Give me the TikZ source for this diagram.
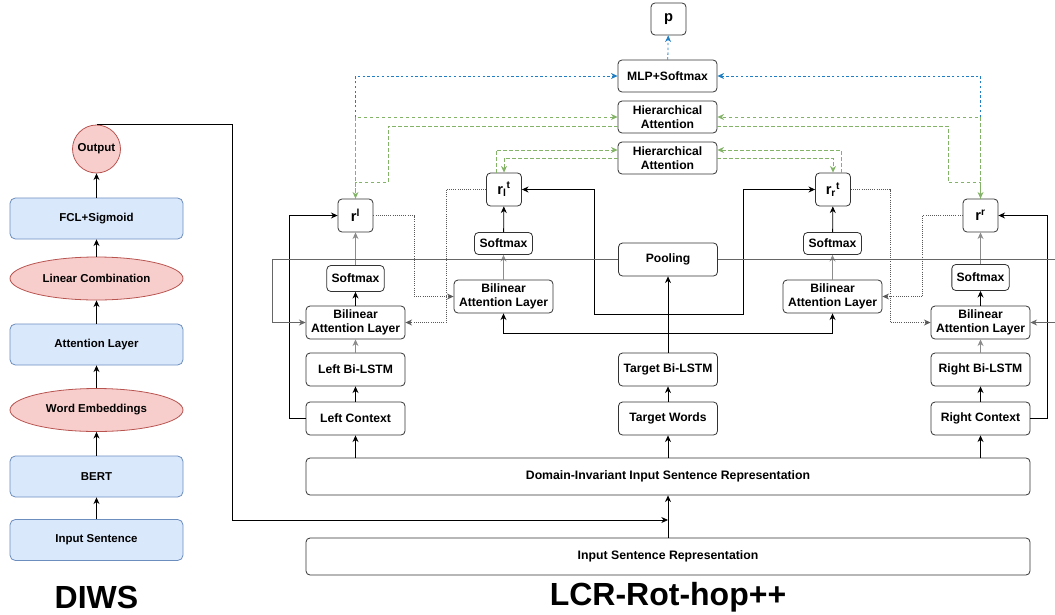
\documentclass[tikz,border=0pt]{standalone}
\usepackage{fontspec}
\setmainfont{Liberation Sans}
\usetikzlibrary{calc,arrows.meta,shapes.geometric}
\definecolor{diwsfill}{HTML}{DAE8FC}
\definecolor{diwsline}{HTML}{6C8EBF}
\definecolor{pinkfill}{HTML}{F8CECC}
\definecolor{pinkline}{HTML}{B85450}
\definecolor{hagreen}{HTML}{82B366}
\definecolor{mlpblue}{HTML}{1F7EC4}

\begin{document}
\begin{tikzpicture}[x=0.75pt, y=-0.75pt, >={Stealth[length=5pt,width=4.5pt]}, line width=0.6pt,
    txt/.style={font=\bfseries\fontsize{9.1}{10.5}\selectfont, align=center, inner sep=0pt},
    diwsbox/.style={txt, draw=diwsline, fill=diwsfill, rounded corners=4pt, minimum width=129.75pt, minimum height=30.75pt, font=\bfseries\fontsize{8.6}{10}\selectfont},
    diwsell/.style={txt, ellipse, draw=pinkline, fill=pinkfill, minimum width=129.75pt, minimum height=32.25pt, font=\bfseries\fontsize{8.6}{10}\selectfont},
    box/.style={txt, draw=black!80, fill=white, rounded corners=3pt, minimum width=74.25pt, minimum height=24.75pt},
    softbox/.style={box, minimum width=43pt, minimum height=19.5pt},
    midsoft/.style={box, minimum width=43.5pt, minimum height=16.5pt},
    rbox/.style={box, minimum width=26.25pt, minimum height=24.75pt, font=\bfseries\fontsize{11}{12}\selectfont},
    widebox/.style={box, minimum width=543pt, minimum height=27.75pt, font=\bfseries\fontsize{9.2}{10}\selectfont},
    title/.style={font=\bfseries\fontsize{24}{28}\selectfont, inner sep=0pt},
    grayarrow/.style={->, draw=black!45},
    poolline/.style={->, draw=black!60, line width=0.5pt},
    dotline/.style={->, draw=black!65, densely dotted, line width=0.6pt},
    greenline/.style={->, draw=hagreen, dash pattern=on 2.5pt off 2pt},
    blueline/.style={->, draw=mlpblue, dash pattern=on 1.8pt off 1.8pt}]

\useasboundingbox (0,0) rectangle (1055,614);

% DIWS
\node[diwsbox] (inp) at (96.5,540) {Input Sentence};
\node[diwsbox] (bert) at (96.5,476.5) {BERT};
\node[diwsell] (we) at (96.5,410) {Word Embeddings};
\node[diwsbox] (att) at (96.5,344.5) {Attention Layer};
\node[diwsell] (lc) at (96.5,278.5) {Linear Combination};
\node[diwsbox] (fcl) at (96.5,218.5) {FCL+Sigmoid};
\node[txt, circle, draw=pinkline, fill=pinkfill, minimum size=36pt, font=\bfseries\fontsize{8.6}{10}\selectfont] (out) at (96.5,149) {Output};
\node[title] (diwslbl) at (96.5,597) {DIWS};

\draw[->] (inp) -- (bert);
\draw[->] (bert) -- (we);
\draw[->] (we) -- (att);
\draw[->] (att) -- (lc);
\draw[->] (lc) -- (fcl);
\draw[->] (fcl) -- (out);

% LCR-Rot-hop++
\node[widebox] (isr) at (668,556.5) {Input Sentence Representation};
\node[widebox] (diis) at (668,476.5) {Domain-Invariant Input Sentence Representation};
\node[title] (lcrlbl) at (668,597) {LCR-Rot-hop++};
\coordinate (join) at (668,520);

\node[box] (lctx) at (355.5,418.5) {Left Context};
\node[box] (llstm) at (355.5,369.5) {Left Bi-LSTM};
\node[box] (lbal) at (355.5,322.5) {Bilinear\\Attention Layer};
\node[softbox] (lsoft) at (355.5,278.5) {Softmax};
\node[rbox] (rl) at (355.5,215.5) {r\textsuperscript{l}};

\node[box] (mlbal) at (503.5,296.5) {Bilinear\\Attention Layer};
\node[midsoft] (mlsoft) at (503.5,243.5) {Softmax};
\node[rbox] (rlt) at (504,189.5) {r\textsubscript{l}\textsuperscript{t}};

\node[box] (tw) at (668,418.5) {Target Words};
\node[box] (tlstm) at (668,369.5) {Target Bi-LSTM};
\node[box] (pool) at (668,259.5) {Pooling};
\coordinate (tsplitA) at (668,314);
\coordinate (tsplitB) at (668,333);

\node[box] (mrbal) at (832.5,296.5) {Bilinear\\Attention Layer};
\node[midsoft] (mrsoft) at (832.5,243.5) {Softmax};
\node[rbox] (rrt) at (833,189.5) {r\textsubscript{r}\textsuperscript{t}};

\node[box] (rctx) at (980.5,418.5) {Right Context};
\node[box] (rlstm) at (980.5,369.5) {Right Bi-LSTM};
\node[box] (rbal) at (980.5,322.5) {Bilinear\\Attention Layer};
\node[softbox] (rsoft) at (980.5,277.5) {Softmax};
\node[rbox] (rr) at (980.5,215.5) {r\textsuperscript{r}};

\node[box, minimum height=24pt] (ha2) at (667.5,158) {Hierarchical\\Attention};
\node[box, minimum height=24pt] (ha1) at (667.5,117) {Hierarchical\\Attention};
\node[box, minimum height=24pt] (mlp) at (667.5,76) {MLP+Softmax};
\node[rbox, minimum height=24pt] (p) at (668.5,19) {p};

% input to contexts
\draw[->] (isr) -- (diis);
\draw[->] (out.north) -- ++(135.5,0) |- (join);
\draw[->] (lctx |- diis.north) -- (lctx);
\draw[->] (tw |- diis.north) -- (tw);
\draw[->] (rctx |- diis.north) -- (rctx);

% columns
\draw[->] (lctx) -- (llstm);
\draw[grayarrow] (llstm) -- (lbal);
\draw[->] (lbal) -- (lsoft);
\draw[grayarrow] (lsoft) -- (rl);
\draw[->] (rctx) -- (rlstm);
\draw[grayarrow] (rlstm) -- (rbal);
\draw[->] (rbal) -- (rsoft);
\draw[grayarrow] (rsoft) -- (rr);
\draw[grayarrow] (mlbal) -- (mlsoft);
\draw[->] (mlsoft) -- (rlt);
\draw[grayarrow] (mrbal) -- (mrsoft);
\draw[->] (mrsoft) -- (rrt);
\draw[->] (tw) -- (tlstm);
\draw[->] (tlstm) -- (pool);

% context and target links
\draw[->] (lctx.west) -- ++(-16,0) |- (rl.west);
\draw[->] (rctx.east) -- ++(16.5,0) |- (rr.east);
\draw[->] (tsplitA) -- ++(-74,0) |- (rlt.east);
\draw[->] (tsplitA) -- ++(75,0) |- (rrt.west);
\draw[->] (tsplitB) -| (mlbal.south);
\draw[->] (tsplitB) -| (mrbal.south);
\draw[poolline] (pool.west) -| ($(lbal.west)+(-33,0)$) -- (lbal.west);
\draw[poolline] (pool.east) -| ($(rbal.east)+(30,0)$) -- (rbal.east);

% rotatory links
\draw[dotline] (rl.east) -- ++(41,0) |- (mlbal.west);
\draw[dotline] (rlt.west) -- ++(-40,0) |- (lbal.east);
\draw[dotline] (rrt.east) -- ++(39,0) |- (rbal.west);
\draw[dotline] (rr.west) -- ++(-40,0) |- (mrbal.east);

% hierarchical attention
\draw[greenline] (rl.north) -- (rl.north |- ha1.west) -- (ha1.west);
\draw[blueline] (rl.north |- ha1.west) -- (rl.north |- mlp.west) -- (mlp.west);
\draw[greenline] ([yshift=-6.75pt]ha1.west) -| ($(rl.north)+(32.5,-16)$) -| (rl.north);
\draw[greenline] (rr.north) -- (rr.north |- ha1.east) -- (ha1.east);
\draw[blueline] (rr.north |- ha1.east) -- (rr.north |- mlp.east) -- (mlp.east);
\draw[greenline] ([yshift=-6.75pt]ha1.east) -| ($(rr.north)+(-32.5,-16)$) -| (rr.north);
\draw[greenline] ([xshift=-6pt]rlt.north) |- ([yshift=6pt]ha2.west);
\draw[greenline] (ha2.west) -| (rlt.north);
\draw[greenline] ([xshift=6pt]rrt.north) |- ([yshift=6pt]ha2.east);
\draw[greenline] (ha2.east) -| (rrt.north);
\draw[blueline] (mlp) -- (p);
\end{tikzpicture}
\end{document}
